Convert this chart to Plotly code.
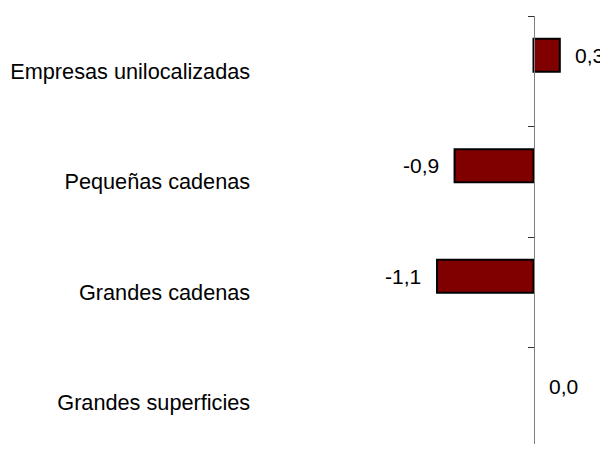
import plotly.graph_objects as go

categories = ["Empresas unilocalizadas", "Pequeñas cadenas", "Grandes cadenas", "Grandes superficies"]
values = [0.3, -0.9, -1.1, 0.0]
value_labels = [f"{v:.1f}".replace(".", ",") for v in values]

FONT = "Liberation Sans, Arial, sans-serif"

# page has an 8px default body margin, so the figure is drawn smaller to avoid scrollbars
W, H = 600, 436
AXIS_PX = 525.5
PX_PER_UNIT = 87.7
BAND_PX = 110.5
TOP = 8

fig = go.Figure()
fig.add_trace(go.Bar(
    x=values, y=categories, orientation="h",
    width=0.3, offset=-0.295,
    marker=dict(color="#800000",
                line=dict(color="#000000", width=[2 if v != 0 else 0 for v in values])),
    hoverinfo="x+y",
))

annotations = []
for c, v, t in zip(categories, values, value_labels):
    annotations.append(dict(
        x=v, y=c, xref="x", yref="y", text=t, showarrow=False,
        xanchor="left" if v >= 0 else "right",
        xshift=13 if v >= 0 else -14, yshift=16,
        font=dict(family=FONT, size=21, color="#000"),
    ))

fig.update_layout(
    width=W, height=H,
    margin=dict(l=0, r=0, t=TOP, b=0, autoexpand=False),
    paper_bgcolor="white", plot_bgcolor="white",
    showlegend=False,
    font=dict(family=FONT, size=21, color="#000"),
    xaxis=dict(range=[-AXIS_PX / PX_PER_UNIT, (W - AXIS_PX) / PX_PER_UNIT],
               visible=False, showgrid=False, zeroline=False, automargin=False),
    yaxis=dict(
        type="category", categoryorder="array", categoryarray=categories,
        range=[-0.5 + (H - TOP) / BAND_PX, -0.5],
        anchor="free", position=AXIS_PX / W,
        showline=True, linecolor="#808080", linewidth=1,
        ticks="outside", ticklen=6, tickcolor="#303030", tickwidth=1,
        tickson="boundaries",
        ticklabelstandoff=279,
        automargin=False,
        showgrid=False, zeroline=False,
        tickfont=dict(family=FONT, size=21.7, color="#000"),
    ),
    annotations=annotations,
)

fig.write_html("out.html")
